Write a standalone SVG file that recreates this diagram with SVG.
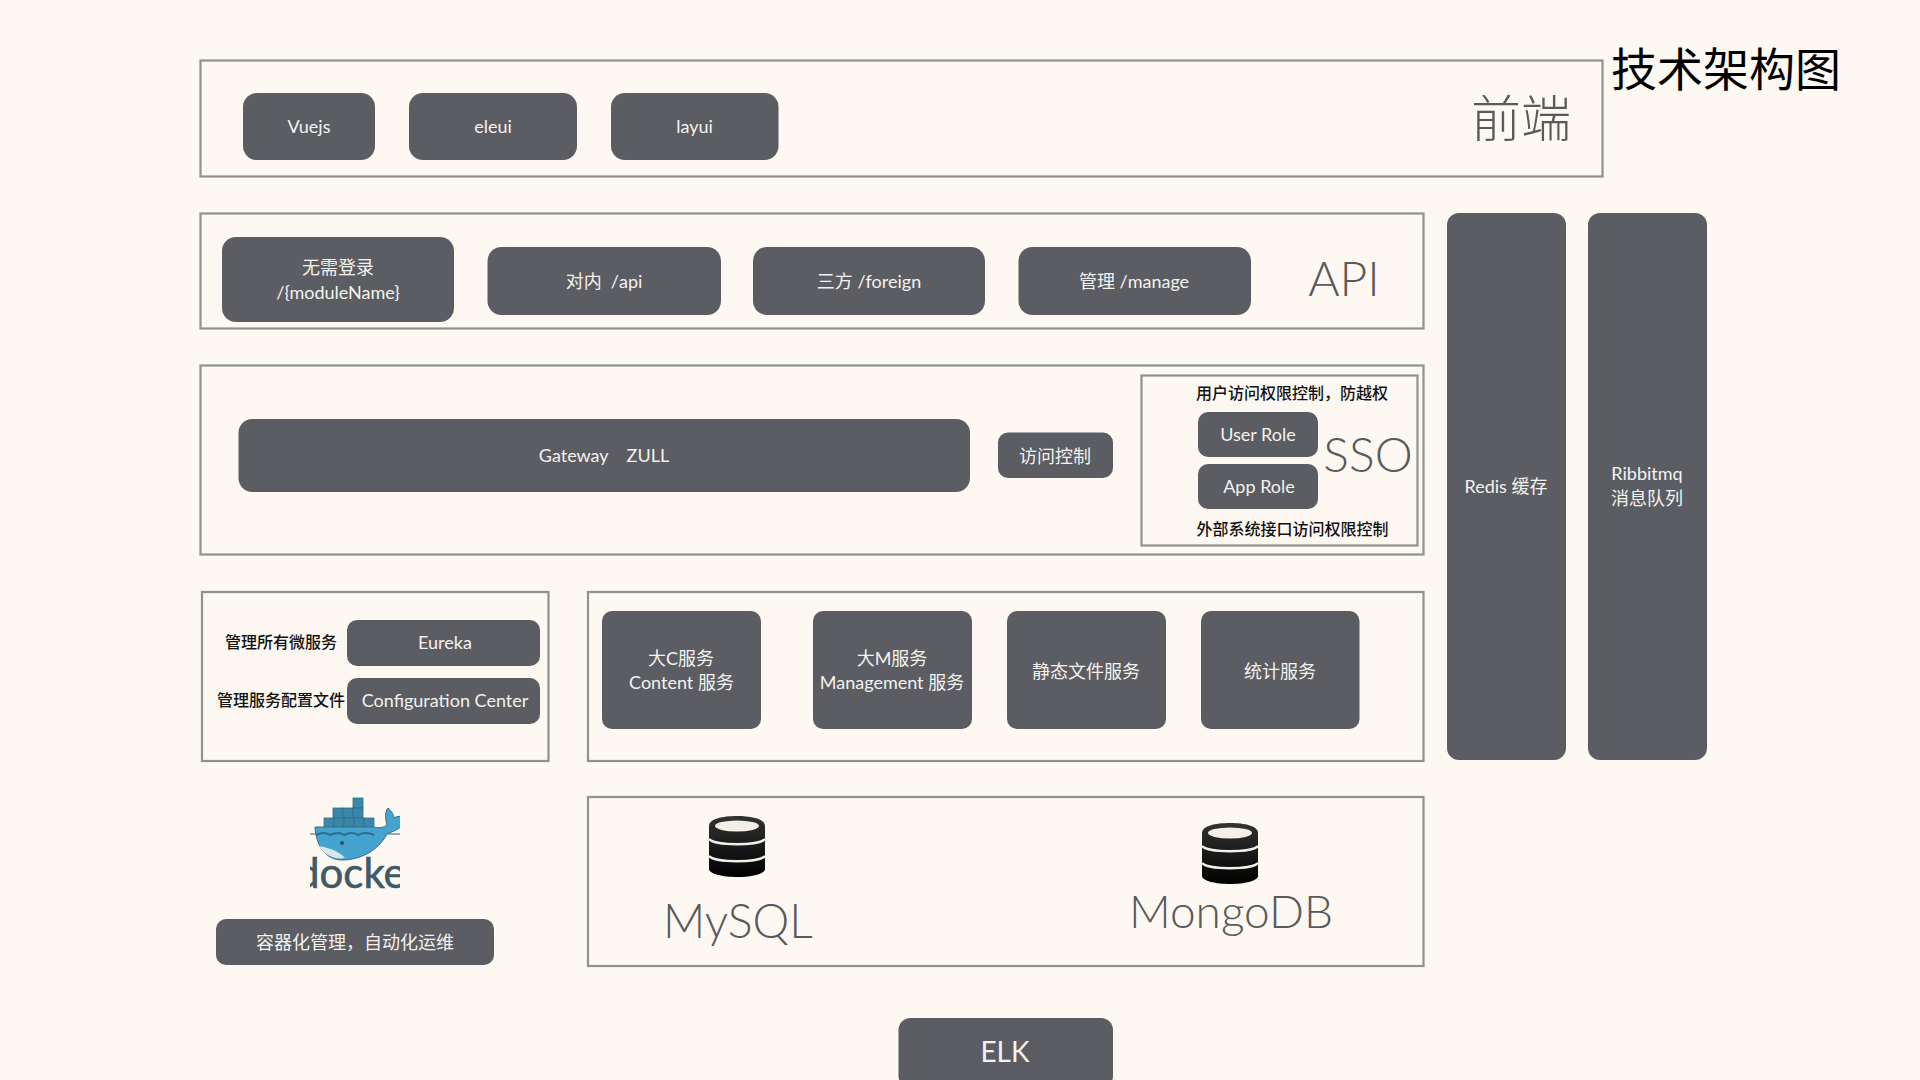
<svg xmlns="http://www.w3.org/2000/svg" width="1920" height="1080" viewBox="0 0 1920 1080">
<style>
.frame{fill:none;stroke:#8f938e;stroke-width:2.2}
.box{fill:#5b5d62}
.t{font-family:"Lato","Noto Sans CJK SC",sans-serif;font-weight:400;font-size:18px;fill:#f4f2ee;text-anchor:middle}
.big{font-family:"Lato","Noto Sans CJK SC",sans-serif;font-weight:300;fill:#5a5a5a;text-anchor:middle}
.note{font-family:"Noto Sans CJK SC",sans-serif;font-weight:500;font-size:16px;fill:#111;text-anchor:middle}
</style>
<defs>
<linearGradient id="db" x1="0" y1="0" x2="0" y2="1"><stop offset="0" stop-color="#333"/><stop offset="1" stop-color="#000"/></linearGradient>
<g id="dbicon">
<path d="M0 10C0 3 13 0 28 0S56 3 56 10V53C56 58 42 61 28 61S0 58 0 53Z" fill="url(#db)"/>
<ellipse cx="28" cy="10" rx="22" ry="5.5" fill="#f4efe6"/>
<path d="M0 23C6 30 50 30 56 23M0 40C6 47 50 47 56 40" fill="none" stroke="#f4efe6" stroke-width="2.6"/>
</g>
<clipPath id="dock"><rect x="310" y="795" width="90" height="95"/></clipPath>
</defs>
<rect width="1920" height="1080" fill="#fdf8f2"/>

<g id="title"><text x="1726" y="86" text-anchor="middle" font-family="'Noto Sans CJK SC',sans-serif" font-size="46" fill="#000">技术架构图</text></g>

<g id="frontend">
<rect class="frame" x="200.5" y="60.5" width="1402" height="116"/>
<text class="big" x="1521" y="137" font-size="50">前端</text>
</g>
<g id="vuejs"><rect class="box" x="243" y="93" width="132" height="67" rx="14"/><text class="t" x="309" y="133">Vuejs</text></g>
<g id="eleui"><rect class="box" x="409" y="93" width="168" height="67" rx="14"/><text class="t" x="493" y="133">eleui</text></g>
<g id="layui"><rect class="box" x="611" y="93" width="167.500" height="67" rx="14"/><text class="t" x="694.500" y="133">layui</text></g>

<g id="api">
<rect class="frame" x="200.5" y="213.5" width="1223" height="115"/>
<text class="big" x="1344" y="296" font-size="48">API</text>
</g>
<g id="nologin"><rect class="box" x="222" y="237" width="232" height="85" rx="14"/><text class="t" x="338" y="274">无需登录</text><text class="t" x="338" y="298.500">/{moduleName}</text></g>
<g id="inner"><rect class="box" x="487.500" y="247" width="233.500" height="68" rx="14"/><text class="t" x="604" y="288" xml:space="preserve">对内  /api</text></g>
<g id="foreign"><rect class="box" x="753" y="247" width="232" height="68" rx="14"/><text class="t" x="869" y="288">三方 /foreign</text></g>
<g id="manage"><rect class="box" x="1018.500" y="247" width="232.500" height="68" rx="14"/><text class="t" x="1134" y="288">管理 /manage</text></g>

<g id="gatewaylayer">
<rect class="frame" x="200.500" y="365.500" width="1223" height="189"/>
</g>
<g id="gateway"><rect class="box" x="238.500" y="419" width="731.500" height="73" rx="14"/><text class="t" x="604" y="462" xml:space="preserve">Gateway    ZULL</text></g>
<g id="access"><rect class="box" x="998" y="432.500" width="115" height="45.500" rx="10"/><text class="t" x="1055" y="463">访问控制</text></g>
<g id="sso">
<rect class="frame" x="1141.500" y="375.500" width="276" height="170"/>
<text class="note" x="1292" y="399">用户访问权限控制，防越权</text>
<text class="note" x="1292.500" y="535">外部系统接口访问权限控制</text>
<text class="big" x="1368" y="472" font-size="48">SSO</text>
</g>
<g id="userrole"><rect class="box" x="1198" y="412" width="120" height="45" rx="10"/><text class="t" x="1258" y="441">User Role</text></g>
<g id="approle"><rect class="box" x="1198" y="464" width="120" height="45" rx="10"/><text class="t" x="1259" y="493">App Role</text></g>

<g id="redis"><rect class="box" x="1447" y="213" width="119" height="547" rx="12"/><text class="t" x="1506" y="493">Redis 缓存</text></g>
<g id="mq"><rect class="box" x="1588" y="213" width="119" height="547" rx="12"/><text class="t" x="1647" y="480">Ribbitmq</text><text class="t" x="1647" y="505">消息队列</text></g>

<g id="registry">
<rect class="frame" x="202" y="592" width="346.500" height="169"/>
<text class="note" x="281" y="648">管理所有微服务</text>
<text class="note" x="281" y="706">管理服务配置文件</text>
</g>
<g id="eureka"><rect class="box" x="347" y="620" width="193" height="46" rx="10"/><text class="t" x="445" y="649">Eureka</text></g>
<g id="config"><rect class="box" x="347" y="678" width="193" height="46" rx="10"/><text class="t" x="445" y="707">Configuration Center</text></g>

<g id="services"><rect class="frame" x="588" y="592" width="835.500" height="169"/></g>
<g id="cservice"><rect class="box" x="602" y="611" width="159" height="118" rx="10"/><text class="t" x="681" y="665">大C服务</text><text class="t" x="681.500" y="689">Content 服务</text></g>
<g id="mservice"><rect class="box" x="813" y="611" width="159" height="118" rx="10"/><text class="t" x="892" y="665">大M服务</text><text class="t" x="892" y="689">Management 服务</text></g>
<g id="static"><rect class="box" x="1007" y="611" width="159" height="118" rx="10"/><text class="t" x="1086" y="678">静态文件服务</text></g>
<g id="stats"><rect class="box" x="1201" y="611" width="158.500" height="118" rx="10"/><text class="t" x="1280" y="678">统计服务</text></g>

<g id="docker" clip-path="url(#dock)">
<g fill="#3a87a8" stroke="#2d6f8a" stroke-width=".8">
<rect x="353" y="798" width="10" height="10"/>
<rect x="333" y="808" width="10" height="10"/><rect x="343" y="808" width="10" height="10"/><rect x="353" y="808" width="10" height="10"/>
<rect x="324" y="818" width="10" height="10"/><rect x="334" y="818" width="10" height="10"/><rect x="344" y="818" width="10" height="10"/><rect x="354" y="818" width="10" height="10"/><rect x="364" y="818" width="10" height="10"/>
</g>
<path d="M315 827H372C378 828 384 828 387 825C385 818 385 811 388 808C392 812 394 815 394 818C397 816 400 816 402 817V826C396 831 391 832 387 834C378 851 360 860 342 860C326 860 316 846 315 827Z" fill="#45a3cf" stroke="#3a6d84" stroke-width="1"/>
<path d="M318 846C326 847 338 850 345 858C333 860 324 854 318 846Z" fill="#d7e6ea"/>
<path d="M316 835C322 832 326 832 330 835C336 832 340 832 344 835C350 832 354 832 358 835C364 832 370 833 374 835" fill="none" stroke="#2b6f8c" stroke-width="2"/>
<path d="M310 834H316M388 834H400" stroke="#3a5a68" stroke-width="1"/>
<circle cx="342" cy="843" r="2" fill="#32505c"/>
<text x="296" y="888" font-family="Lato,sans-serif" font-weight="400" font-size="42" fill="#3f5a66" stroke="#3f5a66" stroke-width=".6">docker</text>
</g>
<g id="container"><rect class="box" x="216" y="919" width="278" height="46" rx="10"/><text class="t" x="355" y="949">容器化管理，自动化运维</text></g>

<g id="storage">
<rect class="frame" x="588" y="797" width="835.500" height="169"/>
<use href="#dbicon" x="709" y="816"/>
<use href="#dbicon" x="1202" y="823"/>
<text class="big" x="738" y="938" font-size="46.500">MySQL</text>
<text class="big" x="1231" y="928" font-size="46">MongoDB</text>
</g>
<g id="elk"><rect class="box" x="898.500" y="1018" width="214.500" height="70" rx="12"/><text class="t" x="1005" y="1062" style="font-size:28px">ELK</text></g>
</svg>
